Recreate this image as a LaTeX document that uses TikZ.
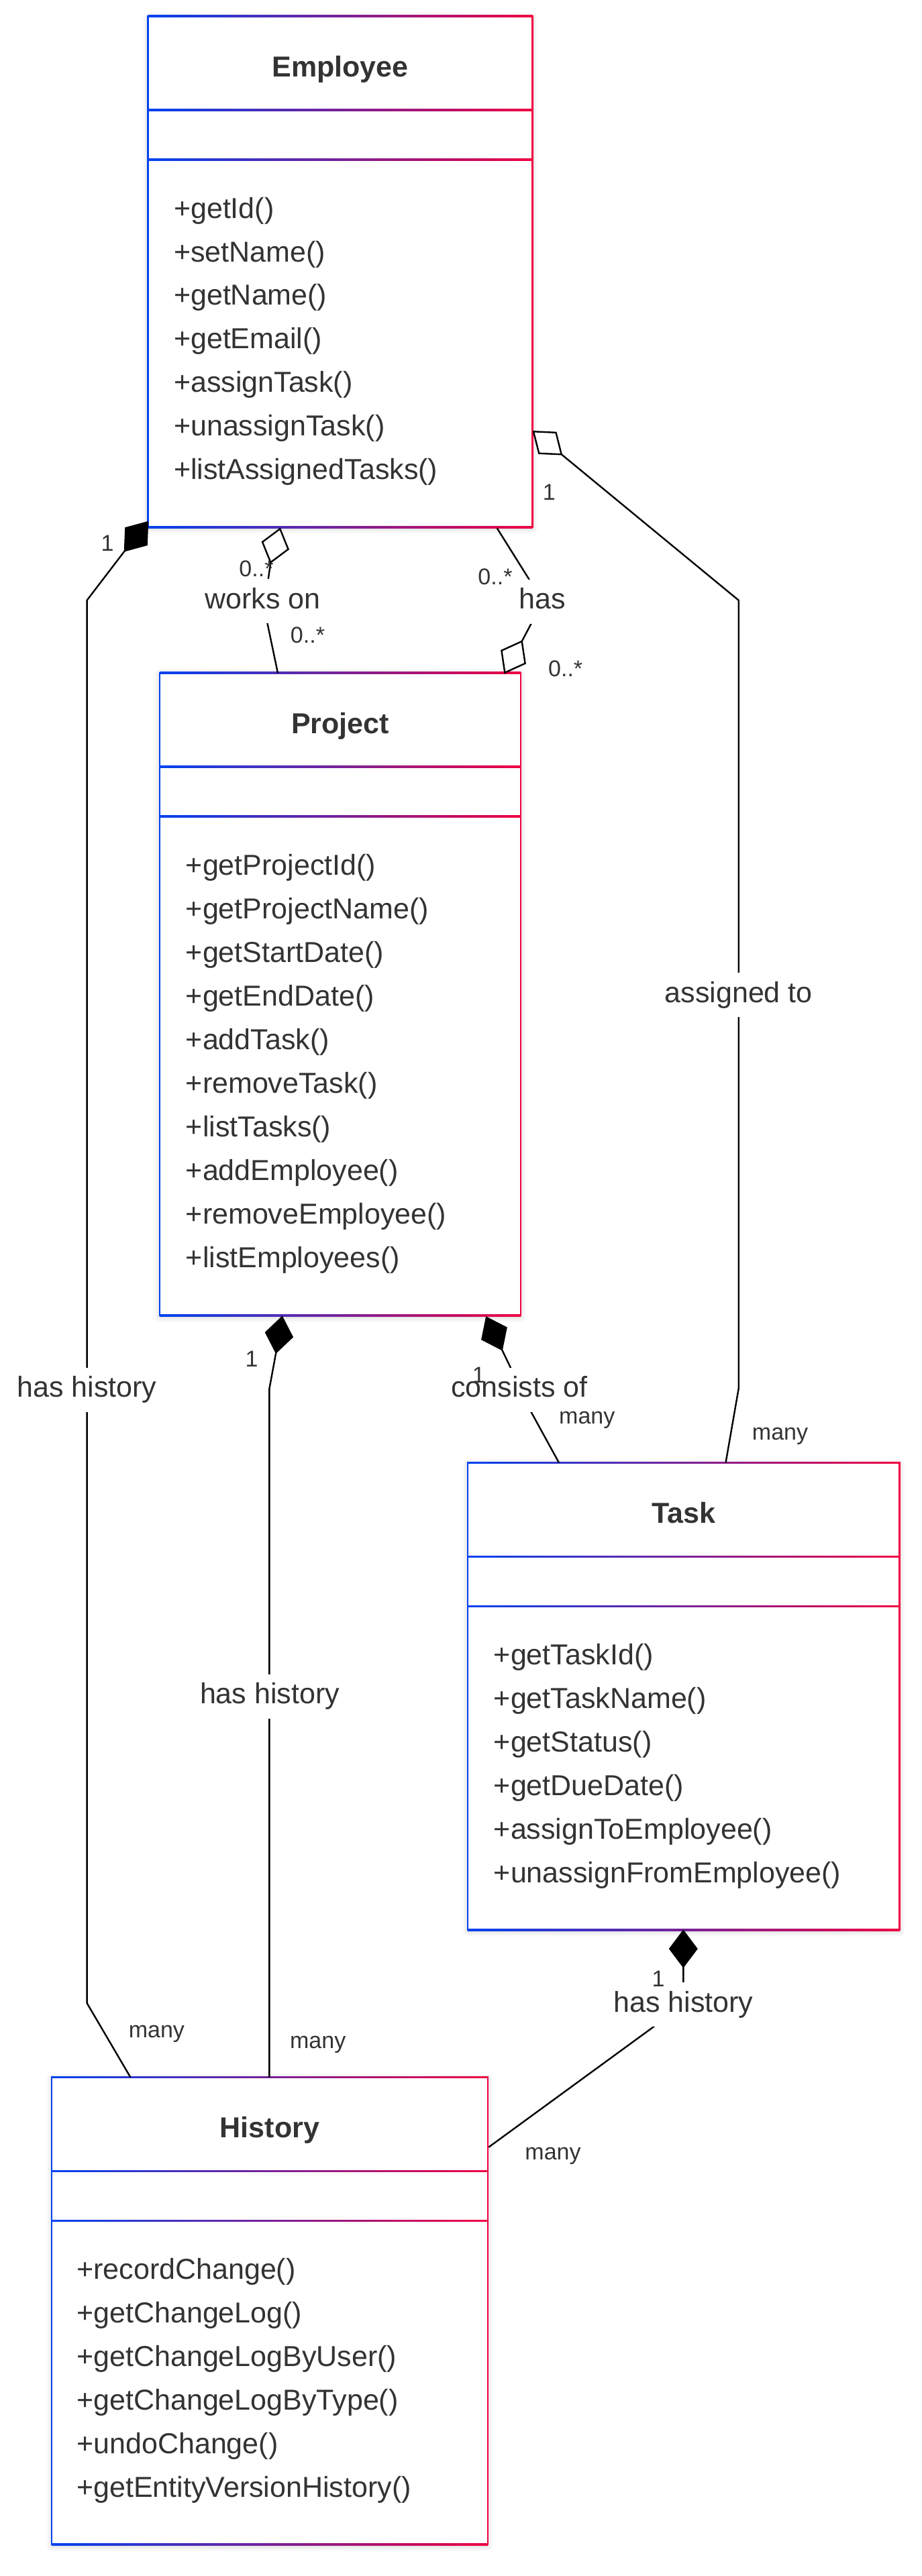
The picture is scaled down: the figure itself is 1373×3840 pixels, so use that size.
\documentclass[tikz,border=0pt]{standalone}
\usepackage{fontspec}
\setmainfont{Liberation Sans}
\usetikzlibrary{calc,shadows.blur,fit}
\definecolor{cB}{RGB}{0,66,240}
\definecolor{cR}{RGB}{240,0,66}
\definecolor{txt}{RGB}{51,51,51}
\tikzset{
  conn/.style={draw=black,line width=1.2pt,line join=miter},
  lab/.style={font=\fontsize{21.5}{21.5}\selectfont,text=txt,fill=white,inner xsep=2pt,inner ysep=6.5pt,text height=15.5pt,text depth=4.5pt},
  mult/.style={font=\fontsize{17}{17}\selectfont,text=txt,inner sep=0pt},
  meth/.style={font=\fontsize{21.5}{21.5}\selectfont,text=txt,anchor=base west,inner sep=0pt},
  ttl/.style={font=\bfseries\fontsize{21.5}{21.5}\selectfont,text=txt,anchor=base,inner sep=0pt},
}
\newcommand\classbox[6]{%
  \fill[white,blur shadow={shadow xshift=0pt,shadow yshift=-1pt,shadow blur radius=4pt,shadow opacity=22}] (#2,#4) rectangle (#3,#5);
  \coordinate (#1-nw) at (#2,#4);
  \coordinate (#1-se) at (#3,#5);
  \node[fit=(#1-nw)(#1-se),inner sep=0pt] (#1) {};
  \shade[left color=cB,right color=cR] (#2,{#4-1.3}) rectangle (#3,{#4+1.3});
  \shade[left color=cB,right color=cR] (#2,{#4+140-1.3}) rectangle (#3,{#4+140+1.3});
  \shade[left color=cB,right color=cR] (#2,{#4+214-1.3}) rectangle (#3,{#4+214+1.3});
  \shade[left color=cB,right color=cR] (#2,{#5-1.3}) rectangle (#3,{#5+1.3});
  \fill[cB] ({#2-1.3},{#4-1.3}) rectangle ({#2+1.3},{#5+1.3});
  \fill[cR] ({#3-1.3},{#4-1.3}) rectangle ({#3+1.3},{#5+1.3});
  \node[ttl] (#1-t) at ({(#2+#3)/2},{#4+90}) {#6};
}
\newcommand\umldiamond[3]{%
  \coordinate (dmid) at ($(#1)!.5!(#2)$);
  \draw[conn,fill=#3] (#1) -- ($(dmid)!10pt!90:(#2)$) -- (#2) -- ($(dmid)!10pt!-90:(#2)$) -- cycle;
}
\begin{document}
\begin{tikzpicture}[x=0.5pt,y=-0.5pt]
\useasboundingbox (0,0) rectangle (1373,3840);

% ---------- classes ----------
\classbox{emp}{220.7}{793.5}{24.2}{785.7}{Employee}
\foreach \m [count=\i from 0] in {+getId(),+setName(),+getName(),+getEmail(),+assignTask(),+unassignTask(),+listAssignedTasks()}
  \node[meth] (emp-m\i) at (258.7,{325.2+64.8*\i}) {\m};

\classbox{prj}{238}{776}{1003}{1961}{Project}
\foreach \m [count=\i from 0] in {+getProjectId(),+getProjectName(),+getStartDate(),+getEndDate(),+addTask(),+removeTask(),+listTasks(),+addEmployee(),+removeEmployee(),+listEmployees()}
  \node[meth] (prj-m\i) at (276.5,{1304.5+65*\i}) {\m};

\classbox{tsk}{697}{1340.6}{2180.3}{2876.8}{Task}
\foreach \m [count=\i from 0] in {+getTaskId(),+getTaskName(),+getStatus(),+getDueDate(),+assignToEmployee(),+unassignFromEmployee()}
  \node[meth] (tsk-m\i) at (735.5,{2481.3+65*\i}) {\m};

\classbox{his}{77}{726.8}{3096.5}{3793}{History}
\foreach \m [count=\i from 0] in {+recordChange(),+getChangeLog(),+getChangeLogByUser(),+getChangeLogByType(),+undoChange(),+getEntityVersionHistory()}
  \node[meth] (his-m\i) at (114,{3397.5+64.9*\i}) {\m};

% ---------- connector waypoints ----------
% Employee -- History
\coordinate (a1) at (220,778.3);
\coordinate (a2) at (186,821);
\coordinate (a3) at (129.6,894.8);
\coordinate (a4) at (129.6,2986);
\coordinate (a5) at (194.4,3096.5);
% Employee -- Project (works on)
\coordinate (b1) at (417.3,788.3);
\coordinate (b2) at (403.3,838.3);
\coordinate (b3) at (400,861.7);
\coordinate (b4) at (398.3,928.3);
\coordinate (b5) at (414,1003.3);
% Employee -- Project (has)
\coordinate (c1) at (740.7,787.3);
\coordinate (c2) at (788.3,863.3);
\coordinate (c3) at (792.3,928.3);
\coordinate (c4) at (777.7,956);
\coordinate (c5) at (752.3,1002.7);
% Employee -- Task (assigned to)
\coordinate (d1) at (795,643.3);
\coordinate (d2) at (836.7,677.3);
\coordinate (d3) at (1100.7,894.8);
\coordinate (d4) at (1100.7,2070);
\coordinate (d5) at (1081.5,2180.3);
% Project -- History
\coordinate (e1) at (420.4,1963.3);
\coordinate (e2) at (411.4,2016);
\coordinate (e3) at (401.4,2070);
\coordinate (e4) at (401.4,3096.5);
% Project -- Task (consists of)
\coordinate (f1) at (725,1964);
\coordinate (f2) at (747.9,2011.7);
\coordinate (f3) at (760.7,2038.3);
\coordinate (f4) at (790.7,2103.3);
\coordinate (f5) at (832.9,2180.3);
% Task -- History
\coordinate (g1) at (1018.3,2878.3);
\coordinate (g2) at (1018.3,2931.7);
\coordinate (g3) at (1018.3,2954.3);
\coordinate (g4) at (976.7,3019.3);
\coordinate (g5) at (728.3,3200.7);

% ---------- connectors ----------
\draw[conn] (a2) -- (a3) -- (a4) -- (a5);
\umldiamond{a1}{a2}{black}
\draw[conn] (b2) -- (b3) -- (b4) -- (b5);
\umldiamond{b1}{b2}{white}
\draw[conn] (c1) -- (c2) -- (c3) -- (c4);
\umldiamond{c5}{c4}{white}
\draw[conn] (d2) -- (d3) -- (d4) -- (d5);
\umldiamond{d1}{d2}{white}
\draw[conn] (e2) -- (e3) -- (e4);
\umldiamond{e1}{e2}{black}
\draw[conn] (f2) -- (f3) -- (f4) -- (f5);
\umldiamond{f1}{f2}{black}
\draw[conn] (g2) -- (g3) -- (g4) -- (g5);
\umldiamond{g1}{g2}{black}

% ---------- labels ----------
\node[lab] (la) at (129.6,2071.6) {has history};
\node[lab] (lb) at (391.4,896) {works on};
\node[lab] (lc) at (808,896.7) {has};
\node[lab] (ld) at (1100.7,1483) {assigned to};
\node[lab] (le) at (402,2528.5) {has history};
\node[lab] (lf) at (774,2071.7) {consists of};
\node[lab] (lg) at (1018.3,2988.3) {has history};

% ---------- multiplicities ----------
\node[mult] (ma1) at (160,810) {1};
\node[mult] (ma2) at (233.4,3032) {many};
\node[mult] (mb1) at (382,848) {0..*};
\node[mult] (mb2) at (458.5,947) {0..*};
\node[mult] (mc1) at (738,860) {0..*};
\node[mult] (mc2) at (842.7,996.7) {0..*};
\node[mult] (md1) at (818.3,733.3) {1};
\node[mult] (md2) at (1162.5,2140.5) {many};
\node[mult] (me1) at (375,2026) {1};
\node[mult] (me2) at (473.7,3048) {many};
\node[mult] (mf1) at (713.2,2050) {1};
\node[mult] (mf2) at (874.8,2117) {many};
\node[mult] (mg1) at (981,2950) {1};
\node[mult] (mg2) at (824,3214) {many};
\end{tikzpicture}
\end{document}
